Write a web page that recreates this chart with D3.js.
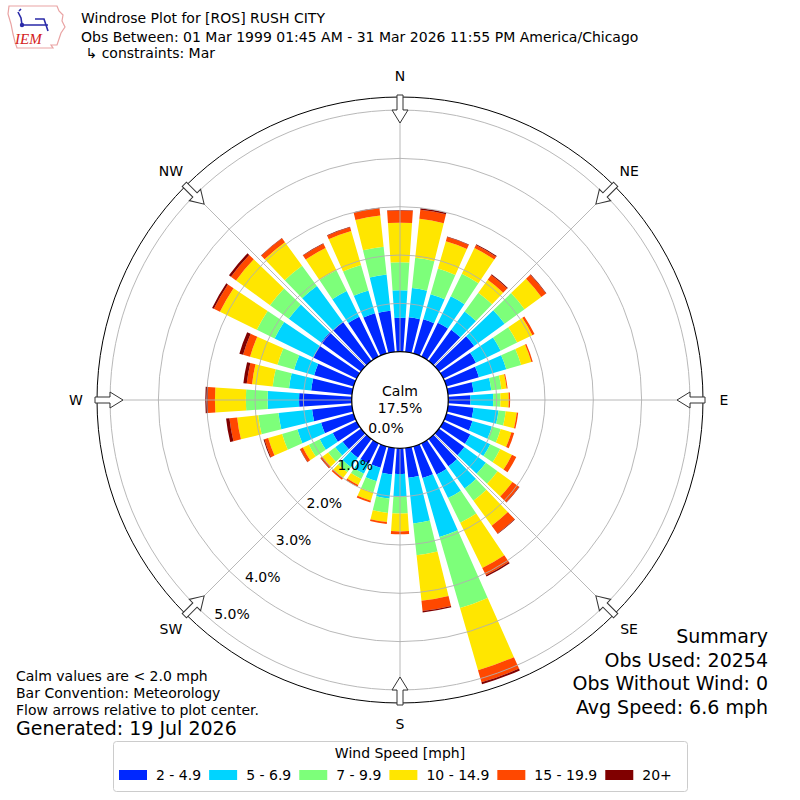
<!DOCTYPE html>
<html><head><meta charset="utf-8">
<script src="https://cdn.jsdelivr.net/npm/d3@7"></script>
<style>
body{margin:0;background:#fff}
svg{display:block}
text{font-family:"DejaVu Sans",sans-serif;fill:#000}
</style>
</head><body>
<svg id="chart" width="800" height="800"></svg>
<script>
// ---- data ----
const directions = [0,10,20,30,40,50,60,70,80,90,100,110,120,130,140,150,160,170,180,190,200,210,220,230,240,250,260,270,280,290,300,310,320,330,340,350];
const speedBins = ["2 - 4.9","5 - 6.9","7 - 9.9","10 - 14.9","15 - 19.9","20+"];
const binColors = ["#0028ff","#00d4ff","#7dff7a","#ffe600","#ff4800","#800000"];
// percent of observations per direction, per speed bin
const spd2to5   = [0.70,0.72,0.74,0.78,0.80,0.90,0.75,0.70,0.53,0.46,0.53,0.56,0.62,0.65,0.70,0.72,0.68,0.62,0.53,0.55,0.46,0.47,0.48,0.47,0.55,0.70,0.83,1.09,0.85,0.85,1.00,1.02,1.00,0.92,0.87,0.86];
const spd5to7   = [0.57,0.61,0.54,0.61,0.47,0.78,0.57,0.59,0.37,0.47,0.52,0.42,0.46,0.55,0.57,0.54,1.27,0.95,0.47,0.50,0.29,0.23,0.24,0.19,0.30,0.51,0.70,0.65,0.46,0.43,0.89,0.83,0.92,0.59,0.49,0.75];
const spd7to10  = [0.58,0.63,0.55,0.52,0.48,0.51,0.38,0.32,0.21,0.15,0.15,0.19,0.23,0.30,0.31,0.57,1.53,0.66,0.35,0.30,0.24,0.12,0.13,0.18,0.25,0.33,0.42,0.45,0.34,0.36,0.41,0.48,0.52,0.48,0.55,0.58];
const spd10to15 = [0.82,0.81,0.59,0.59,0.33,0.43,0.35,0.22,0.11,0.17,0.23,0.23,0.27,0.38,0.64,1.04,1.34,0.95,0.37,0.19,0.18,0.14,0.15,0.15,0.14,0.30,0.44,0.64,0.43,0.59,0.85,0.87,0.60,0.51,0.73,0.65];
const spd15to20 = [0.25,0.19,0.09,0.07,0.12,0.12,0.05,0.03,0.02,0.03,0.03,0.06,0.10,0.17,0.20,0.17,0.26,0.21,0.06,0.04,0.04,0.04,0.04,0.04,0.06,0.08,0.16,0.15,0.11,0.15,0.14,0.13,0.10,0.10,0.08,0.15];
const spd20plus = [0.01,0.03,0.01,0.02,0.02,0.01,0.00,0.00,0.00,0.00,0.00,0.00,0.00,0.01,0.01,0.03,0.04,0.03,0.00,0.00,0.00,0.00,0.00,0.01,0.01,0.02,0.07,0.05,0.07,0.08,0.04,0.05,0.01,0.01,0.01,0.01];
const radialTicks = [0,1,2,3,4,5];
const radialTickLabels = ["0.0%","1.0%","2.0%","3.0%","4.0%","5.0%"];
const compassNames = ["N","NE","E","SE","S","SW","W","NW"];
const compassAngles = [0,45,90,135,180,225,270,315];
const calmPct = "17.5%";
const titleLines = ["Windrose Plot for [ROS] RUSH CITY","Obs Between: 01 Mar 1999 01:45 AM - 31 Mar 2026 11:55 PM America/Chicago"," \u21B3 constraints: Mar"];
const summaryLines = ["Summary","Obs Used: 20254","Obs Without Wind: 0","Avg Speed: 6.6 mph"];
const noteLines = ["Calm values are < 2.0 mph","Bar Convention: Meteorology","Flow arrows relative to plot center."];
const generatedText = "Generated: 19 Jul 2026";
const legendTitle = "Wind Speed [mph]";

// ---- setup ----
const svg = d3.select("#chart");
const cx = 400, cy = 400;
const maxPct = 5.27;
const r = d3.scaleLinear().domain([0, maxPct]).range([48.3, 303]);
const rad = d => d * Math.PI / 180;
const pt = (deg, rr) => [cx + rr * Math.sin(rad(deg)), cy - rr * Math.cos(rad(deg))];

const keys = ["b0","b1","b2","b3","b4","b5"];
const series = [spd2to5, spd5to7, spd7to10, spd10to15, spd15to20, spd20plus];
const table = directions.map((d, i) => {
  const o = {dir: d};
  keys.forEach((k, j) => o[k] = series[j][i]);
  return o;
});
const stacked = d3.stack().keys(keys)(table);

const g = svg.append("g").attr("transform", `translate(${cx},${cy})`);
const halfW = 3.9;
const arc = d3.arc();

// bars
stacked.forEach((layer, j) => {
  g.append("g").selectAll("path").data(layer.filter(d => d[1] - d[0] > 0)).join("path")
    .attr("d", d => arc({innerRadius: r(d[0]), outerRadius: r(d[1]),
      startAngle: rad(d.data.dir - halfW), endAngle: rad(d.data.dir + halfW)}))
    .attr("fill", binColors[j]);
});

// grid
const grid = g.append("g").attr("stroke", "#b0b0b0").attr("stroke-width", 0.9).attr("fill", "none");
grid.selectAll("circle").data(radialTicks.filter(t => t > 0)).join("circle")
  .attr("r", d => r(d));
grid.selectAll("line").data(compassAngles).join("line")
  .attr("x1", d => r(0) * Math.sin(rad(d))).attr("y1", d => -r(0) * Math.cos(rad(d)))
  .attr("x2", d => r(maxPct) * Math.sin(rad(d))).attr("y2", d => -r(maxPct) * Math.cos(rad(d)));

// outer circle and calm circle
g.append("circle").attr("r", r(maxPct)).attr("fill", "none").attr("stroke", "#000").attr("stroke-width", 1);
g.append("circle").attr("r", r(0)).attr("fill", "#fff").attr("stroke", "#000").attr("stroke-width", 1.3);

// arrows (pointing toward center)
const arrowPath = "M0,-277 L8,-290 L3,-290 L3,-305 L-3,-305 L-3,-290 L-8,-290 Z";
g.append("g").selectAll("path").data(compassAngles).join("path")
  .attr("d", arrowPath)
  .attr("transform", d => `rotate(${d})`)
  .attr("fill", "#fff").attr("stroke", "#333").attr("stroke-width", 1);

// compass labels
svg.append("g").selectAll("text").data(compassNames).join("text")
  .attr("x", (d, i) => pt(compassAngles[i], 324)[0])
  .attr("y", (d, i) => pt(compassAngles[i], 324)[1] + 5)
  .attr("text-anchor", "middle").attr("font-size", 14).text(d => d);

// calm text
svg.append("text").attr("x", cx).attr("y", 396).attr("text-anchor", "middle").attr("font-size", 14).text("Calm");
svg.append("text").attr("x", cx).attr("y", 412.5).attr("text-anchor", "middle").attr("font-size", 14).text(calmPct);

// radial labels
const labelAngle = 219.6;
svg.append("g").selectAll("text").data(radialTicks).join("text")
  .attr("x", d => pt(labelAngle, r(d))[0] - 1)
  .attr("y", d => pt(labelAngle, r(d))[1] - 4)
  .attr("font-size", 14).text((d, i) => radialTickLabels[i]);

// title
svg.append("text").attr("x", 81).attr("y", 23).attr("font-size", 14).text(titleLines[0]);
svg.append("text").attr("x", 81).attr("y", 42).attr("font-size", 14).text(titleLines[1]);
svg.append("text").attr("x", 81).attr("y", 58).attr("font-size", 14).style("white-space","pre").text(titleLines[2]);

// logo
const logo = svg.append("g");
logo.append("path").attr("d", "M9,6 L57,6 L59,11 L63,15 L62,21 L65,27 L61,33 L59,39 L57,45 L51,45 L53,48 L17,48 L15,42 L13,34 L11,24 L8,14 Z")
  .attr("fill", "#fff").attr("stroke", "#e9a3a3").attr("stroke-width", 1.2);
logo.append("circle").attr("cx", 22).attr("cy", 25).attr("r", 2.2).attr("fill", "#2a2aa8");
logo.append("path").attr("d", "M22,25 L48,25 M35,19 L44,19 L46,25 M46,25 L48,31 M18,12 L21,18 L22,25 M19,11 L21,9")
  .attr("fill", "none").attr("stroke", "#2a2aa8").attr("stroke-width", 1.6);
logo.append("text").attr("x", 15).attr("y", 44).attr("font-size", 15).attr("font-style", "italic")
  .style("font-family", "'Liberation Serif',serif").style("fill", "#d42020").text("IEM");

// notes
noteLines.forEach((t, i) => svg.append("text").attr("x", 16).attr("y", 681 + i * 17).attr("font-size", 14).text(t));
svg.append("text").attr("x", 16).attr("y", 735).attr("font-size", 19).text(generatedText);

// summary
summaryLines.forEach((t, i) => svg.append("text").attr("x", 768).attr("y", 643 + i * 23.5)
  .attr("text-anchor", "end").attr("font-size", 19).text(t));

// legend
const lg = svg.append("g");
lg.append("rect").attr("x", 113.5).attr("y", 741.5).attr("width", 574).attr("height", 50).attr("rx", 3)
  .attr("fill", "#fff").attr("stroke", "#cccccc").attr("stroke-width", 1);
lg.append("text").attr("x", 400).attr("y", 758).attr("text-anchor", "middle").attr("font-size", 14).text(legendTitle);
let lx = 119;
speedBins.forEach((b, i) => {
  lg.append("rect").attr("x", lx).attr("y", 770).attr("width", 28).attr("height", 10).attr("fill", binColors[i]);
  const t = lg.append("text").attr("x", lx + 37).attr("y", 780).attr("font-size", 14).text(b);
  const w = t.node().getComputedTextLength();
  lx = lx + 37 + w + 8;
});
</script>
</body></html>
